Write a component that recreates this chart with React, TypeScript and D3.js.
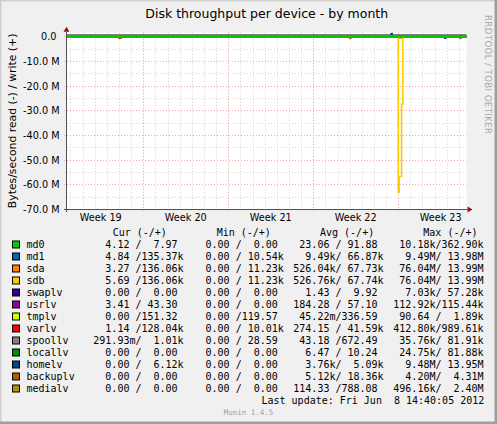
import React from "react";
import * as d3 from "d3";

const W = 497;
const H = 424;

// ---------- legend data ----------
const seriesNames = ["md0", "md1", "sda", "sdb", "swaplv", "usrlv", "tmplv", "varlv", "spoollv", "locallv", "homelv", "backuplv", "medialv"];
const seriesColors = ["#00CC00", "#0066B3", "#FF8000", "#FFCC00", "#330099", "#990099", "#CCFF00", "#FF0000", "#808080", "#008F00", "#00487D", "#B35A00", "#B38F00"];
const curRead = ["4.12", "4.84", "3.27", "5.69", "0.00", "3.41", "0.00", "1.14", "291.93m", "0.00", "0.00", "0.00", "0.00"];
const curWrite = ["7.97", "135.37k", "136.06k", "136.06k", "0.00", "43.30", "151.32", "128.04k", "1.01k", "0.00", "6.12k", "0.00", "0.00"];
const minRead = ["0.00", "0.00", "0.00", "0.00", "0.00", "0.00", "0.00", "0.00", "0.00", "0.00", "0.00", "0.00", "0.00"];
const minWrite = ["0.00", "10.54k", "11.23k", "11.23k", "0.00", "0.00", "119.57", "10.01k", "28.59", "0.00", "0.00", "0.00", "0.00"];
const avgRead = ["23.06", "9.49k", "526.04k", "526.76k", "1.43", "184.28", "45.22m", "274.15", "43.18", "6.47", "3.76k", "5.12k", "114.33"];
const avgWrite = ["91.88", "66.87k", "67.73k", "67.74k", "9.92", "57.10", "336.59", "41.59k", "672.49", "10.24", "5.09k", "18.36k", "788.08"];
const maxRead = ["10.18k", "9.49M", "76.04M", "76.04M", "7.03k", "112.92k", "90.64", "412.80k", "35.76k", "24.75k", "9.48M", "4.20M", "496.16k"];
const maxWrite = ["362.90k", "13.98M", "13.99M", "13.99M", "57.28k", "115.44k", "1.89k", "989.61k", "81.91k", "81.88k", "13.95M", "4.31M", "2.40M"];
const columnHeaders = ["Cur (-/+)", "Min (-/+)", "Avg (-/+)", "Max (-/+)"];

// ---------- chart data (time, bytes/s; read negative, write positive) ----------
const timeStart = "2012-05-07T17:10:00Z";
const timeEnd = "2012-06-09T15:00:00Z";
type Pt = [string, number];
const flatZero: Pt[] = [[timeStart, 0], [timeEnd, 0]];
const sdbRead: Pt[] = [
  [timeStart, 0],
  ["2012-06-04T00:00:00Z", -63.3e6],
  ["2012-06-04T02:00:00Z", -56.8e6],
  ["2012-06-04T06:40:00Z", -27.5e6],
  ["2012-06-04T09:00:00Z", 0],
  [timeEnd, 0],
];
const sdaRead: Pt[] = [
  [timeStart, 0],
  ["2012-06-04T00:00:00Z", -0.6e6],
  ["2012-06-04T06:40:00Z", 0],
  [timeEnd, 0],
];
const backuplvRead: Pt[] = [
  [timeStart, 0],
  ["2012-05-12T00:00:00Z", -0.7e6],
  ["2012-05-12T04:00:00Z", 0],
  ["2012-05-31T00:00:00Z", -0.7e6],
  ["2012-05-31T02:00:00Z", 0],
  ["2012-06-09T02:00:00Z", -0.7e6],
  ["2012-06-09T04:00:00Z", 0],
  [timeEnd, 0],
];
const homelvRead: Pt[] = [
  [timeStart, 0],
  ["2012-06-07T20:00:00Z", -0.7e6],
  ["2012-06-07T22:00:00Z", 0],
  [timeEnd, 0],
];
const homelvWrite: Pt[] = [
  [timeStart, 0],
  ["2012-06-03T10:00:00Z", 1.3e6],
  ["2012-06-03T12:00:00Z", 0],
  [timeEnd, 0],
];
const readSeries: Pt[][] = [flatZero, flatZero, sdaRead, sdbRead, flatZero, flatZero, flatZero, flatZero, flatZero, flatZero, homelvRead, backuplvRead, flatZero];
const writeSeries: Pt[][] = [flatZero, flatZero, flatZero, flatZero, flatZero, flatZero, flatZero, flatZero, flatZero, flatZero, homelvWrite, flatZero, flatZero];
const drawOrder = [12, 11, 10, 9, 8, 7, 6, 5, 4, 2, 3, 1, 0];

const yTickValues = [0, -10e6, -20e6, -30e6, -40e6, -50e6, -60e6, -70e6];
const yTickLabels = ["0.0 ", "-10.0 M", "-20.0 M", "-30.0 M", "-40.0 M", "-50.0 M", "-60.0 M", "-70.0 M"];
const yDomain = [-70e6, 1.5e6];

// ---------- layout ----------
const plotL = 67;
const plotR = 466.5;
const plotB = 209;
const yZeroPx = 36.5;

const x = d3.scaleUtc().domain([new Date(timeStart), new Date(timeEnd)]).range([plotL, plotR]);
const pxPerUnit = (plotB - yZeroPx) / 70e6;
const y = d3.scaleLinear().domain(yDomain).range([plotB, yZeroPx - yDomain[1] * pxPerUnit]);
const plotT = y(yDomain[1]);

const mono = "'DejaVu Sans Mono', monospace";
const sans = "'DejaVu Sans', sans-serif";

function field(v: string) {
  const m = v.match(/^([\d.]+)([a-zA-Z]?)$/);
  const num = m ? m[1] : v;
  const suf = m && m[2] ? m[2] : " ";
  return num.padStart(6, " ") + suf;
}
function pair(r: string, w: string) {
  return field(r) + "/" + field(w);
}

export default function App() {
  const crisp = (v: number) => Math.round(v) + 0.5;
  const days = d3.utcDay.range(new Date(timeStart), new Date(timeEnd));
  const mondays = d3.utcMonday.range(d3.utcMonday.floor(new Date(timeStart)), new Date(timeEnd));
  const minorY = d3.range(-70e6, 1e6, 5e6);
  const line = d3
    .line<Pt>()
    .x((d) => x(new Date(d[0])))
    .y((d) => y(d[1]))
    .curve(d3.curveStepAfter);

  const rowY0 = 244.5;
  const rowStep = 12;
  const colX = [93.3, 193.5, 293.3, 393.3];
  const headerX = [112.7, 216.7, 320, 423.3];
  const colData = [
    [curRead, curWrite],
    [minRead, minWrite],
    [avgRead, avgWrite],
    [maxRead, maxWrite],
  ];
  const pre = { whiteSpace: "pre" as const };

  return (
    <div style={{ position: "fixed", left: 0, top: 0 }}>
      <svg width={W} height={H} viewBox={`0 0 ${W} ${H}`} style={{ display: "block" }}>
        <defs>
          <clipPath id="plotclip">
            <rect x={plotL} y={plotT} width={plotR - plotL} height={plotB - plotT} />
          </clipPath>
        </defs>
        <rect x={0} y={0} width={W} height={H} fill="#F0F0F0" />
        {/* frame */}
        <path d={`M0,${H} L0,0 L${W},0`} fill="none" stroke="#CFCFCF" strokeWidth={3} />
        <path d={`M${W},0 L${W},${H} L0,${H}`} fill="none" stroke="#9E9E9E" strokeWidth={5} />

        {/* title */}
        <text x={(plotL + plotR) / 2} y={18} textAnchor="middle" fontFamily={sans} fontSize={12.5} fill="#000">
          Disk throughput per device - by month
        </text>

        {/* plot background */}
        <rect x={plotL} y={plotT} width={plotR - plotL} height={plotB - plotT} fill="#FFFFFF" />

        {/* minor grid */}
        <g stroke="#D4D4D4" strokeWidth={1} strokeDasharray="1,2">
          {days.map((d, i) => (
            <line key={"dv" + i} x1={crisp(x(d))} x2={crisp(x(d))} y1={plotT} y2={plotB} />
          ))}
          {minorY.map((v, i) => (
            <line key={"dh" + i} x1={plotL} x2={plotR} y1={crisp(y(v))} y2={crisp(y(v))} />
          ))}
        </g>
        {/* major grid */}
        <g stroke="#F2A8A8" strokeWidth={1} strokeDasharray="1,2">
          {mondays
            .filter((d) => x(d) > plotL)
            .map((d, i) => (
              <line key={"mv" + i} x1={crisp(x(d))} x2={crisp(x(d))} y1={plotT} y2={plotB + 2} />
            ))}
          {yTickValues.map((v, i) => (
            <line key={"mh" + i} x1={plotL - 3} x2={plotR} y1={crisp(y(v))} y2={crisp(y(v))} />
          ))}
        </g>

        {/* y tick labels */}
        <g fontFamily={sans} fontSize={9.7} fill="#000">
          {yTickValues.map((v, i) => (
            <text key={"yl" + i} x={59.5} y={crisp(y(v))} textAnchor="end" dominantBaseline="central" xmlSpace="preserve" style={pre}>
              {yTickLabels[i]}
            </text>
          ))}
        </g>
        {/* x labels */}
        <g fontFamily={sans} fontSize={9.7} fill="#000">
          {mondays.map((d, i) => {
            const c = x(d3.utcHour.offset(d, 84));
            return (
              <text key={"xl" + i} x={c} y={221} textAnchor="middle">
                {"Week " + d3.utcFormat("%V")(d)}
              </text>
            );
          })}
        </g>

        {/* y axis title */}
        <text
          transform={`translate(12,${(plotT + plotB) / 2}) rotate(-90)`}
          textAnchor="middle"
          dominantBaseline="central"
          fontFamily={sans}
          fontSize={10.8}
          fill="#000"
        >
          Bytes/second read (-) / write (+)
        </text>

        {/* data lines */}
        <g clipPath="url(#plotclip)" fill="none">
          <line x1={plotL} x2={plotR} y1={yZeroPx - 1.5} y2={yZeroPx - 1.5} stroke="#000" strokeWidth={1} />
          {drawOrder.map((i) => (
            <g key={"s" + i} stroke={seriesColors[i]} strokeWidth={1.6}>
              <path d={line(readSeries[i]) || ""} />
              <path d={line(writeSeries[i]) || ""} />
            </g>
          ))}
        </g>

        {/* axes */}
        <line x1={plotL - 0.5} x2={plotL - 0.5} y1={plotB + 3} y2={plotT - 1} stroke="#505050" strokeWidth={1} />
        <line x1={plotL - 3} x2={plotR + 1} y1={plotB + 0.5} y2={plotB + 0.5} stroke="#505050" strokeWidth={1} />
        <path d={`M${plotL - 3.5},${plotT - 1} L${plotL - 0.5},${plotT - 6} L${plotL + 2.5},${plotT - 1} Z`} fill="#8B1A1A" />
        <path d={`M${plotR + 1},${plotB - 2.5} L${plotR + 6},${plotB + 0.5} L${plotR + 1},${plotB + 3.5} Z`} fill="#8B1A1A" />

        {/* watermark */}
        <text
          transform={`translate(488,15) rotate(90)`}
          fontFamily={sans}
          fontSize={8.6}
          letterSpacing={0.4}
          fill="#AAAAAA"
          dominantBaseline="central"
        >
          RRDTOOL / TOBI OETIKER
        </text>

        {/* legend */}
        <g fontFamily={mono} fontSize={10} fill="#000">
          {columnHeaders.map((h, i) => (
            <text key={"h" + i} x={headerX[i]} y={232.5} dominantBaseline="central" xmlSpace="preserve" style={pre}>
              {h}
            </text>
          ))}
          {seriesNames.map((n, i) => {
            const ry = rowY0 + i * rowStep;
            return (
              <g key={"r" + i}>
                <rect x={12.5} y={ry - 3.5} width={7} height={7} fill={seriesColors[i]} stroke="#000" strokeWidth={1} />
                <text x={26.5} y={ry} dominantBaseline="central">
                  {n}
                </text>
                {colData.map((cd, j) => (
                  <text key={"c" + j} x={colX[j]} y={ry} dominantBaseline="central" xmlSpace="preserve" style={pre}>
                    {pair(cd[0][i], cd[1][i])}
                  </text>
                ))}
              </g>
            );
          })}
          <text x={261.5} y={400.5} dominantBaseline="central" xmlSpace="preserve" style={pre}>
            {"Last update: Fri Jun  8 14:40:05 2012"}
          </text>
        </g>
        <text x={248.5} y={412} textAnchor="middle" dominantBaseline="central" fontFamily={mono} fontSize={7.5} fill="#A0A0A0">
          Munin 1.4.5
        </text>
      </svg>
    </div>
  );
}
